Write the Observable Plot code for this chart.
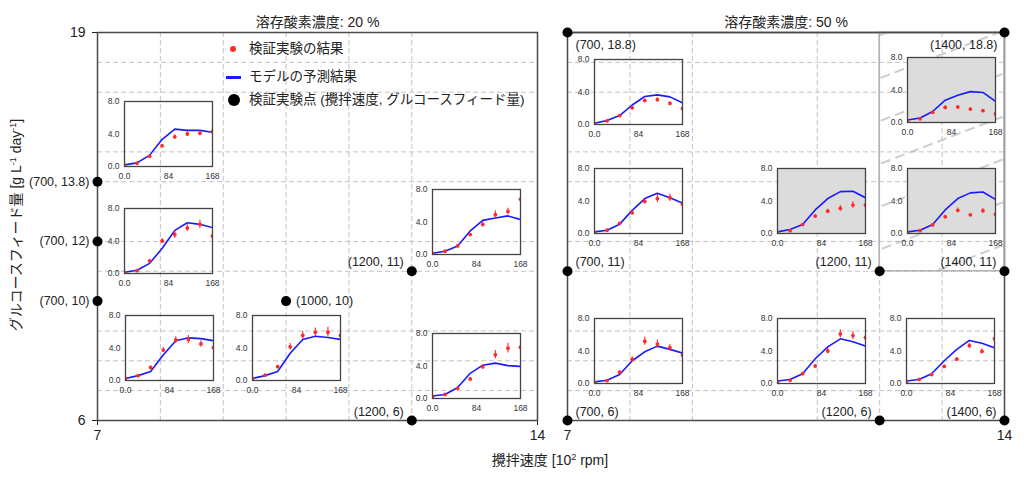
<!DOCTYPE html>
<html><head><meta charset="utf-8">
<script src="https://cdn.jsdelivr.net/npm/d3@7"></script>
<script src="https://cdn.jsdelivr.net/npm/@observablehq/plot@0.6"></script>
<style>
body{margin:0;background:#fff;}
#chart{position:relative;width:1024px;height:479px;overflow:hidden;font-family:"Liberation Sans","Noto Sans CJK JP",sans-serif;color:#222;}
#chart svg{overflow:visible;}
.abs{position:absolute;white-space:nowrap;}
.lg{position:absolute;white-space:nowrap;font-size:13.5px;line-height:1;transform:translateY(-50%);}
sup{font-size:9px;vertical-align:5px;line-height:0;}
</style></head><body><div id="chart"></div>
<script>
// ---------- data ----------
const panelTitles = ["溶存酸素濃度: 20 %", "溶存酸素濃度: 50 %"];
const xTicks = [7, 14];
const yTicks = [6, 19];
const hours = [0, 24, 48, 72, 96, 120, 144, 168];
const insetXTicks = [0, 84, 168];
const insetYTicks = [0, 4, 8];

// validation points (stirring speed [10^2 rpm], glucose feed)
const stir20 = [7, 7, 7, 10, 12, 12];
const feed20 = [14, 12, 10, 10, 11, 6];
const label20 = ["(700, 13.8)", "(700, 12)", "(700, 10)", "(1000, 10)", "(1200, 11)", "(1200, 6)"];
const stir50 = [7, 14, 7, 12, 14, 7, 12, 14];
const feed50 = [19, 19, 11, 11, 11, 6, 6, 6];
const label50 = ["(700, 18.8)", "(1400, 18.8)", "(700, 11)", "(1200, 11)", "(1400, 11)", "(700, 6)", "(1200, 6)", "(1400, 6)"];

// shaded (extrapolated) region in DO 50 %
const hatchStir = [12, 14];
const hatchFeed = [11, 19];

// grid lines
const vGrid20 = [8, 9, 10, 11, 12];
const hGrid20 = [7, 8, 9, 11, 12, 14, 15, 17, 18];
const vGrid50 = [8, 9, 11, 12, 13];
const hGrid50 = [7, 8, 9, 11, 12, 14, 15, 17, 18];

// inset series: model prediction, experiment mean, experiment error
const model_20_700_138 = [0.2, 0.45, 1.4, 3.35, 4.6, 4.45, 4.45, 4.2];
const exp_20_700_138   = [0.2, 0.4, 1.25, 2.55, 3.65, 4.0, 4.1, 4.3];
const err_20_700_138   = [0.05, 0.05, 0.15, 0.2, 0.25, 0.3, 0.3, 0.4];

const model_20_700_12 = [0.15, 0.4, 1.25, 3.1, 5.3, 6.25, 6.05, 5.65];
const exp_20_700_12   = [0.15, 0.35, 1.55, 4.0, 4.8, 5.6, 6.05, 4.6];
const err_20_700_12   = [0.05, 0.05, 0.15, 0.3, 0.5, 0.4, 0.5, 0.4];

const model_20_700_10 = [0.25, 0.6, 1.1, 3.15, 4.9, 5.25, 5.15, 4.9];
const exp_20_700_10   = [0.25, 0.6, 1.6, 3.75, 5.0, 5.05, 4.5, 4.05];
const err_20_700_10   = [0.05, 0.05, 0.15, 0.3, 0.4, 0.5, 0.4, 0.4];

const model_20_1000_10 = [0.25, 0.6, 1.1, 3.35, 5.05, 5.45, 5.3, 5.05];
const exp_20_1000_10   = [0.25, 0.65, 1.7, 4.15, 5.55, 5.95, 5.95, 5.55];
const err_20_1000_10   = [0.05, 0.05, 0.15, 0.4, 0.5, 0.5, 0.6, 0.4];

const model_20_1200_11 = [0.15, 0.4, 1.05, 2.9, 4.2, 4.5, 4.75, 4.3];
const exp_20_1200_11   = [0.15, 0.4, 1.05, 2.45, 3.7, 4.9, 5.3, 6.8];
const err_20_1200_11   = [0.05, 0.05, 0.1, 0.15, 0.3, 0.5, 0.4, 0.3];

const model_20_1200_6 = [0.3, 0.5, 1.35, 3.1, 4.1, 4.35, 4.05, 3.95];
const exp_20_1200_6   = [0.2, 0.5, 1.25, 2.4, 3.9, 5.4, 6.2, 6.3];
const err_20_1200_6   = [0.05, 0.05, 0.15, 0.15, 0.3, 0.5, 0.6, 0.5];

const model_50_700_188 = [0.15, 0.5, 1.1, 2.4, 3.45, 3.65, 3.4, 2.65];
const exp_50_700_188   = [0.1, 0.45, 1.1, 2.05, 2.95, 3.05, 2.6, 1.95];
const err_50_700_188   = [0.05, 0.05, 0.1, 0.2, 0.2, 0.25, 0.2, 0.2];

const model_50_1400_188 = [0.3, 0.55, 1.35, 2.75, 3.35, 3.8, 3.7, 2.6];
const exp_50_1400_188   = [0.15, 0.45, 1.25, 1.85, 1.9, 1.65, 1.45, 1.05];
const err_50_1400_188   = [0.05, 0.05, 0.15, 0.2, 0.2, 0.1, 0.1, 0.1];

const model_50_700_11 = [0.2, 0.4, 1.15, 2.85, 4.3, 4.95, 4.4, 3.75];
const exp_50_700_11   = [0.15, 0.4, 1.25, 2.55, 3.95, 4.3, 4.4, 3.6];
const err_50_700_11   = [0.05, 0.05, 0.1, 0.25, 0.3, 0.5, 0.45, 0.3];

const model_50_1200_11 = [0.2, 0.5, 1.1, 2.9, 4.3, 5.15, 5.2, 4.4];
const exp_50_1200_11   = [0.1, 0.35, 1.1, 2.15, 2.75, 3.1, 3.5, 3.5];
const err_50_1200_11   = [0.05, 0.05, 0.1, 0.2, 0.25, 0.35, 0.4, 0.3];

const model_50_1400_11 = [0.2, 0.4, 1.1, 2.9, 4.3, 5.0, 5.1, 4.2];
const exp_50_1400_11   = [0.1, 0.35, 1.05, 2.05, 2.85, 2.3, 2.8, 2.35];
const err_50_1400_11   = [0.05, 0.05, 0.1, 0.2, 0.3, 0.15, 0.25, 0.2];

const model_50_700_6 = [0.2, 0.4, 1.1, 2.8, 3.9, 4.6, 4.2, 3.75];
const exp_50_700_6   = [0.15, 0.35, 1.4, 3.0, 5.2, 4.85, 4.4, 3.5];
const err_50_700_6   = [0.05, 0.05, 0.15, 0.3, 0.5, 0.5, 0.4, 0.3];

const model_50_1200_6 = [0.3, 0.5, 1.2, 3.05, 4.5, 5.5, 5.15, 4.6];
const exp_50_1200_6   = [0.2, 0.4, 1.2, 2.15, 4.0, 6.1, 5.9, 5.65];
const err_50_1200_6   = [0.05, 0.05, 0.1, 0.2, 0.35, 0.5, 0.5, 0.3];

const model_50_1400_6 = [0.3, 0.5, 1.2, 2.8, 4.2, 5.3, 4.95, 4.4];
const exp_50_1400_6   = [0.25, 0.5, 1.1, 2.1, 3.0, 4.65, 3.95, 5.5];
const err_50_1400_6   = [0.05, 0.05, 0.1, 0.15, 0.2, 0.3, 0.3, 0.3];

// legend texts
const legendTexts = ["検証実験の結果", "モデルの予測結果", "検証実験点 (攪拌速度, グルコースフィード量)"];

// ---------- layout ----------
const FONT = '"Liberation Sans","Noto Sans CJK JP",sans-serif';
const anchors20 = ["left", "left", "left", "right", "above-left", "above-left"];
const anchors50 = ["below-right", "below-left", "above-right", "above-left", "above-left", "above-right", "above-left", "above-left"];
const place = {
  "left":        {textAnchor: "end",   dx: -8, dy: 0},
  "right":       {textAnchor: "start", dx: 10, dy: 0},
  "above-left":  {textAnchor: "end",   dx: -8, dy: -9},
  "above-right": {textAnchor: "start", dx: 8,  dy: -9},
  "below-left":  {textAnchor: "end",   dx: -7, dy: 12},
  "below-right": {textAnchor: "start", dx: 8,  dy: 12}
};
// inset frame top-left corners (px) and fill
const insets = [
  {m: model_20_700_138,  e: exp_20_700_138,  s: err_20_700_138,  fx: 124, fy: 101, gray: false},
  {m: model_20_700_12,   e: exp_20_700_12,   s: err_20_700_12,   fx: 124, fy: 208, gray: false},
  {m: model_20_700_10,   e: exp_20_700_10,   s: err_20_700_10,   fx: 125, fy: 315, gray: false},
  {m: model_20_1000_10,  e: exp_20_1000_10,  s: err_20_1000_10,  fx: 252, fy: 315, gray: false},
  {m: model_20_1200_11,  e: exp_20_1200_11,  s: err_20_1200_11,  fx: 432, fy: 189, gray: false},
  {m: model_20_1200_6,   e: exp_20_1200_6,   s: err_20_1200_6,   fx: 432, fy: 333, gray: false},
  {m: model_50_700_188,  e: exp_50_700_188,  s: err_50_700_188,  fx: 594, fy: 59,  gray: false},
  {m: model_50_1400_188, e: exp_50_1400_188, s: err_50_1400_188, fx: 907, fy: 57,  gray: true},
  {m: model_50_700_11,   e: exp_50_700_11,   s: err_50_700_11,   fx: 594, fy: 168, gray: false},
  {m: model_50_1200_11,  e: exp_50_1200_11,  s: err_50_1200_11,  fx: 777, fy: 168, gray: true},
  {m: model_50_1400_11,  e: exp_50_1400_11,  s: err_50_1400_11,  fx: 907, fy: 168, gray: true},
  {m: model_50_700_6,    e: exp_50_700_6,    s: err_50_700_6,    fx: 594, fy: 318, gray: false},
  {m: model_50_1200_6,   e: exp_50_1200_6,   s: err_50_1200_6,   fx: 777, fy: 318, gray: false},
  {m: model_50_1400_6,   e: exp_50_1400_6,   s: err_50_1400_6,   fx: 906, fy: 318, gray: false}
];

const chart = document.getElementById("chart");

function labelMarks(rows, anchors) {
  return Object.entries(place).map(([k, o]) =>
    Plot.text(rows.filter((d, i) => anchors[i] === k),
      {x: "s", y: "f", text: "label", fontSize: 12.5, fill: "#222", lineAnchor: "middle", ...o}));
}

function mainPanel({left, width, mL, mR, title, stir, feed, labels, anchors, vGrid, hGrid, showY, extra}) {
  const rows = stir.map((s, i) => ({s, f: feed[i], label: labels[i]}));
  const svg = Plot.plot({
    width, height: 479, marginLeft: mL, marginRight: mR, marginTop: 32, marginBottom: 59,
    style: {background: "transparent", fontSize: "14px", fontFamily: FONT, color: "#222", overflow: "visible"},
    x: {domain: [7, 14], ticks: xTicks, tickFormat: d => String(d), tickSize: 5, tickPadding: 5, label: null},
    y: showY ? {domain: [6, 19], ticks: yTicks, tickFormat: d => String(d), tickSize: 5, tickPadding: 7, label: null}
             : {domain: [6, 19], axis: null},
    marks: [
      Plot.ruleX(vGrid, {stroke: "#c2c2c2", strokeDasharray: "5,3", strokeWidth: 1}),
      Plot.ruleY(hGrid, {stroke: "#c2c2c2", strokeDasharray: "5,3", strokeWidth: 1}),
      Plot.frame({stroke: "#4a4a4a", strokeWidth: 1.5}),
      ...extra,
      Plot.text([title], {text: d => d, frameAnchor: "top", lineAnchor: "middle", dy: -10, fontSize: 14, fill: "#222"}),
      Plot.dot(rows, {x: "s", y: "f", r: 5, fill: "#000"}),
      ...labelMarks(rows, anchors)
    ]
  });
  svg.style.position = "absolute";
  svg.style.left = left + "px";
  svg.style.top = "0px";
  chart.append(svg);
  return svg;
}

mainPanel({left: 0, width: 550, mL: 97, mR: 13, title: panelTitles[0], stir: stir20, feed: feed20,
  labels: label20, anchors: anchors20, vGrid: vGrid20, hGrid: hGrid20, showY: true, extra: []});

const hatchRows = [{x1: hatchStir[0], x2: hatchStir[1], y1: hatchFeed[0], y2: hatchFeed[1]}];
const right = mainPanel({left: 550, width: 474, mL: 17, mR: 20, title: panelTitles[1], stir: stir50, feed: feed50,
  labels: label50, anchors: anchors50, vGrid: vGrid50, hGrid: hGrid50, showY: false,
  extra: [
    Plot.rect(hatchRows, {x1: "x1", x2: "x2", y1: "y1", y2: "y2", fill: "url(#hatch50)", stroke: "#b3b3b3", strokeWidth: 1.6}),
    Plot.frame({anchor: "top", stroke: "#4a4a4a", strokeWidth: 1.5})
  ]});
// hatch pattern definition
{
  const defs = d3.select(right).insert("defs", ":first-child");
  const pat = defs.append("pattern").attr("id", "hatch50").attr("patternUnits", "userSpaceOnUse")
    .attr("width", 60).attr("height", 40).attr("patternTransform", "translate(0,12) rotate(-21)");
  pat.append("line").attr("x1", 0).attr("x2", 60).attr("y1", 20).attr("y2", 20)
    .attr("stroke", "#bdbdbd").attr("stroke-width", 1.4).attr("stroke-dasharray", "10,5");
}

// insets
for (const c of insets) {
  const rows = hours.map((h, i) => ({h, m: c.m[i], e: c.e[i], lo: c.e[i] - c.s[i], hi: c.e[i] + c.s[i]}));
  const svg = Plot.plot({
    width: 122, height: 89, marginLeft: 26, marginRight: 8, marginTop: 6, marginBottom: 18,
    style: {background: "transparent", fontSize: "8.5px", fontFamily: FONT, color: "#333", overflow: "visible"},
    x: {domain: [0, 168], ticks: insetXTicks, tickFormat: d => d === 0 ? "0.0" : String(d), tickSize: 0, tickPadding: 6, label: null},
    y: {domain: [0, 8], ticks: insetYTicks, tickFormat: d => d.toFixed(1), tickSize: 0, tickPadding: 5, label: null},
    marks: [
      c.gray ? Plot.frame({fill: "#dcdcdc"}) : null,
      Plot.line(rows, {x: "h", y: "m", stroke: "#1a1aff", strokeWidth: 1.6, clip: true}),
      Plot.ruleX(rows, {x: "h", y1: "lo", y2: "hi", stroke: "#ff2a2a", strokeWidth: 1.1, clip: true}),
      Plot.dot(rows, {x: "h", y: "e", r: 1.9, fill: "#ff2a2a", clip: true}),
      Plot.frame({stroke: "#444", strokeWidth: 1.3})
    ]
  });
  svg.style.position = "absolute";
  svg.style.left = (c.fx - 26) + "px";
  svg.style.top = (c.fy - 6) + "px";
  chart.append(svg);
}

// legend (HTML)
function addEl(html, style, cls = "abs") {
  const d = document.createElement("div");
  d.className = cls; d.innerHTML = html; d.setAttribute("style", style);
  chart.append(d);
}
addEl("", "left:230px;top:46px;width:6px;height:6px;border-radius:50%;background:#ff2a2a;");
addEl("", "left:226px;top:76px;width:15px;height:2.5px;background:#1a1aff;");
addEl("", "left:228px;top:94px;width:12px;height:12px;border-radius:50%;background:#000;");
addEl(legendTexts[0], "left:249px;top:49px;", "lg");
addEl(legendTexts[1], "left:249px;top:77px;", "lg");
addEl(legendTexts[2], "left:249px;top:100px;", "lg");

// axis titles (HTML)
addEl("グルコースフィード量 [g L<sup>-1</sup> day<sup>-1</sup>]",
  "left:15px;top:225px;font-size:14px;transform:translate(-50%,-50%) rotate(-90deg);");
addEl("攪拌速度 [10<sup>2</sup> rpm]",
  "left:550px;top:459px;font-size:14px;transform:translate(-50%,-50%);");
</script>
</body></html>
